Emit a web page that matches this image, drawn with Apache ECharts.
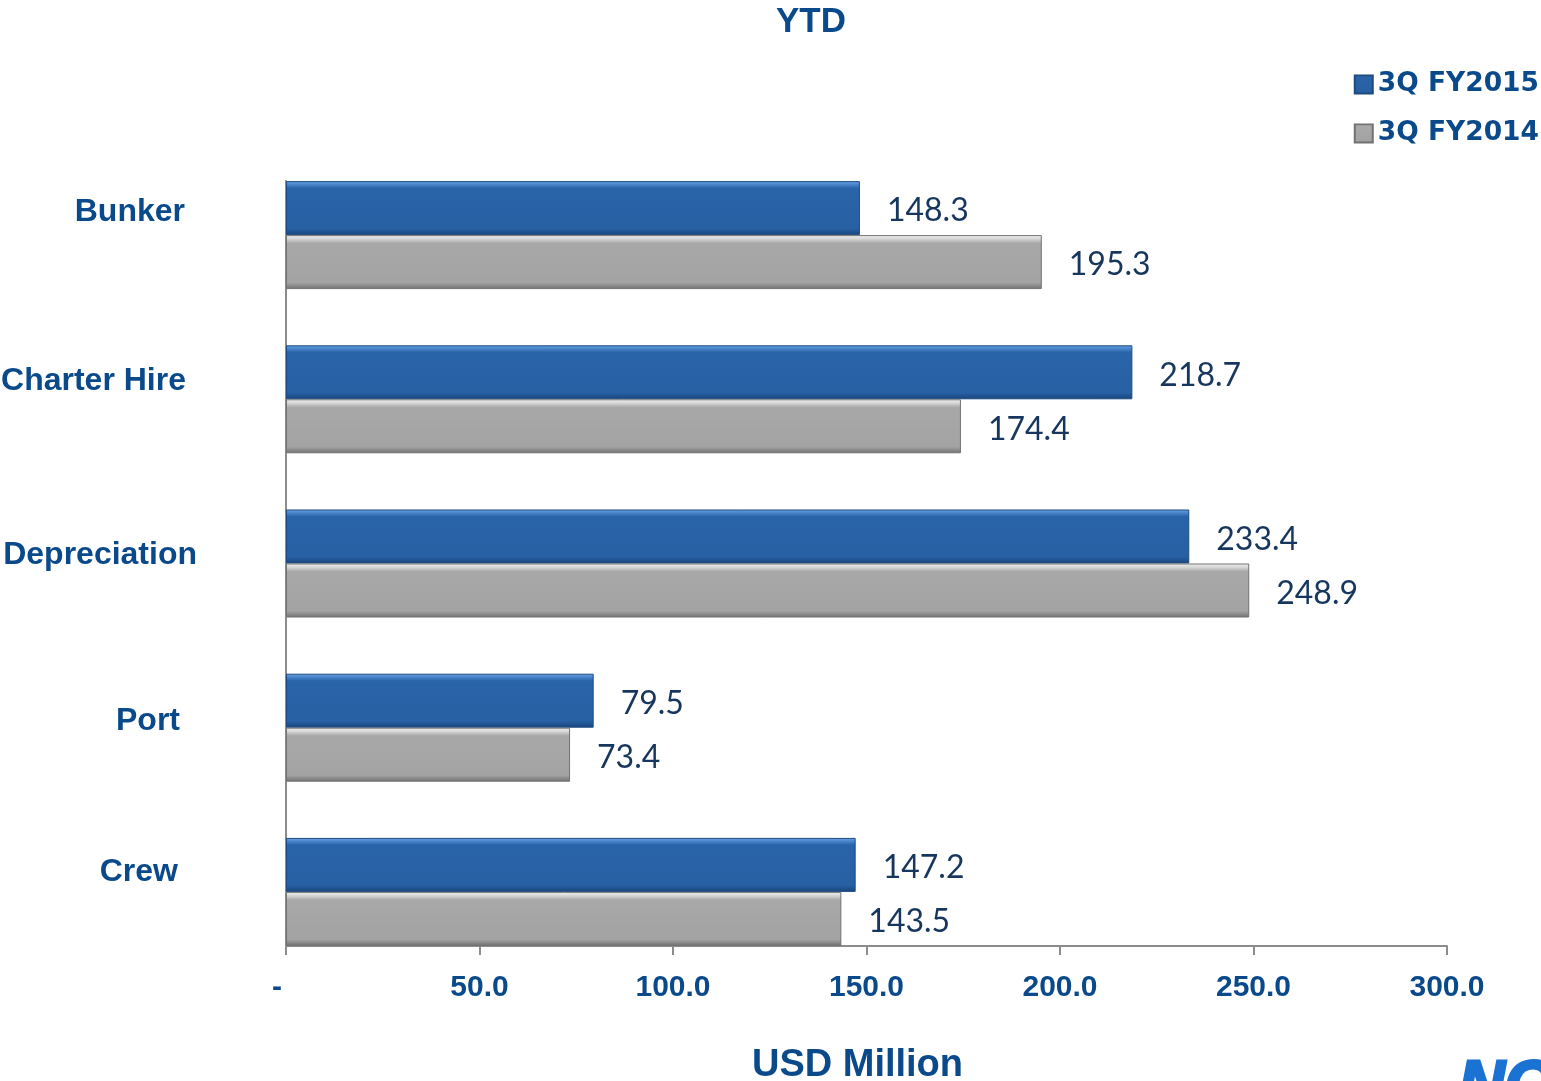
<!DOCTYPE html>
<html>
<head>
<meta charset="utf-8">
<title>YTD</title>
<script src="https://cdn.jsdelivr.net/npm/echarts@6/dist/echarts.min.js"></script>
<style>
  html, body { margin: 0; padding: 0; background: #ffffff; }
  #chart { width: 1541px; height: 1081px; }
</style>
</head>
<body>
<div id="chart"></div>
<script>
// Cost categories (top to bottom)
const categories = ['Bunker', 'Charter Hire', 'Depreciation', 'Port', 'Crew'];
// USD million, year to date
const fy2015 = [148.3, 218.7, 233.4, 79.5, 147.2];
const fy2014 = [195.3, 174.4, 248.9, 73.4, 143.5];
const seriesNames = ['3Q FY2015', '3Q FY2014'];
// Value axis ticks
const tickValues = [0, 50, 100, 150, 200, 250, 300];
const tickLabels = ['-', '50.0', '100.0', '150.0', '200.0', '250.0', '300.0'];

const BLUE_TEXT = '#0b4a8a';
const NAVY = '#17365d';

// Category name placement: right edge x and vertical nudge from the bar pair centre
const catLabelRight = [185, 186, 197, 180, 178];
const catLabelDy = [-23, -18, -8, -7, -20];

const blueFill = new echarts.graphic.LinearGradient(0, 0, 0, 1, [
  { offset: 0, color: '#6aa2e2' },
  { offset: 0.06, color: '#4b86cc' },
  { offset: 0.13, color: '#2a64a8' },
  { offset: 0.88, color: '#2760a3' },
  { offset: 0.94, color: '#1f5190' },
  { offset: 1, color: '#1a4579' }
]);
const grayFill = new echarts.graphic.LinearGradient(0, 0, 0, 1, [
  { offset: 0, color: '#f2f2f2' },
  { offset: 0.07, color: '#d6d6d6' },
  { offset: 0.15, color: '#a8a8a8' },
  { offset: 0.88, color: '#a3a3a3' },
  { offset: 0.94, color: '#8a8a8a' },
  { offset: 1, color: '#707070' }
]);

const chart = echarts.init(document.getElementById('chart'), null, { renderer: 'canvas' });

const valueLabel = {
  show: true,
  position: 'right',
  distance: 27,
  offset: [0, 3],
  formatter: p => p.value.toFixed(1),
  fontFamily: 'Lato',
  fontSize: 32,
  color: NAVY
};

const tickFont = { fontFamily: 'Liberation Sans', fontWeight: 'bold', fontSize: 30, color: BLUE_TEXT };

chart.setOption({
  backgroundColor: '#ffffff',
  animation: false,
  title: {
    text: 'YTD',
    left: 771,
    top: 0,
    textStyle: { fontFamily: 'Liberation Sans', fontWeight: 'bold', fontSize: 35, color: BLUE_TEXT }
  },
  legend: {
    orient: 'vertical',
    right: -3,
    top: 66,
    itemWidth: 18,
    itemHeight: 18,
    itemGap: 22,
    icon: 'rect',
    data: seriesNames,
    textStyle: { fontFamily: 'DejaVu Sans', fontWeight: 'bold', fontSize: 26.5, color: BLUE_TEXT }
  },
  grid: [
    // band layout for the bars
    { left: 286, right: 94, top: 153, height: 821, outerBoundsMode: 'none', containLabel: false },
    // frame for the axis lines and ticks
    { left: 286, right: 94, top: 181, height: 765, outerBoundsMode: 'none', containLabel: false }
  ],
  xAxis: [
    {
      gridIndex: 0, type: 'value', min: 0, max: 300, interval: 50,
      show: false
    },
    {
      gridIndex: 1, type: 'value', min: 0, max: 300, interval: 50,
      axisLine: { show: true, lineStyle: { color: '#8c8c8c', width: 2 } },
      axisTick: { show: true, length: 9, lineStyle: { color: '#8c8c8c', width: 2 } },
      splitLine: { show: false },
      axisLabel: Object.assign({
        margin: 27,
        formatter: v => {
          const t = tickLabels[tickValues.indexOf(v)];
          return v === 0 ? '{dash|' + t + '}' : t;
        },
        rich: { dash: Object.assign({ padding: [0, 18, 0, 0] }, tickFont) }
      }, tickFont),
      name: 'USD Million',
      nameLocation: 'middle',
      nameGap: 101,
      nameTextStyle: { fontFamily: 'Liberation Sans', fontWeight: 'bold', fontSize: 38, color: BLUE_TEXT, padding: [0, 18, 0, 0] }
    }
  ],
  yAxis: [
    {
      gridIndex: 0, type: 'category', inverse: true, data: categories,
      axisLine: { show: false },
      axisTick: { show: false },
      axisLabel: { show: false }
    },
    {
      gridIndex: 1, type: 'category', inverse: true, data: categories,
      axisLine: { show: true, lineStyle: { color: '#8c8c8c', width: 2 } },
      axisTick: { show: false },
      axisLabel: { show: false }
    }
  ],
  series: [
    {
      name: seriesNames[0], type: 'bar', xAxisIndex: 0, yAxisIndex: 0,
      data: fy2015, barWidth: 54, barGap: '0%',
      itemStyle: { color: blueFill, borderColor: '#1d4a80', borderWidth: 1 },
      label: valueLabel
    },
    {
      name: seriesNames[1], type: 'bar', xAxisIndex: 0, yAxisIndex: 0,
      data: fy2014, barWidth: 54, barGap: '0%',
      itemStyle: { color: grayFill, borderColor: '#727272', borderWidth: 1 },
      label: valueLabel
    }
  ]
});

// Category names, placed from the category axis scale
const catTexts = categories.map((name, i) => {
  const cy = chart.convertToPixel({ yAxisIndex: 0 }, name);
  return {
    type: 'text',
    x: catLabelRight[i],
    y: cy + catLabelDy[i],
    style: {
      text: name,
      align: 'right',
      verticalAlign: 'middle',
      fontFamily: 'Liberation Sans',
      fontWeight: 'bold',
      fontSize: 32,
      fill: BLUE_TEXT
    }
  };
});

chart.setOption({
  graphic: catTexts.concat([
    {
      type: 'text',
      right: -54,
      top: 1055,
      style: {
        text: 'NOL',
        fontFamily: 'Liberation Sans',
        fontWeight: 'bold',
        fontStyle: 'italic',
        fontSize: 64,
        fill: '#1a72d2',
        stroke: '#1a72d2',
        lineWidth: 3
      }
    }
  ])
});
</script>
</body>
</html>
